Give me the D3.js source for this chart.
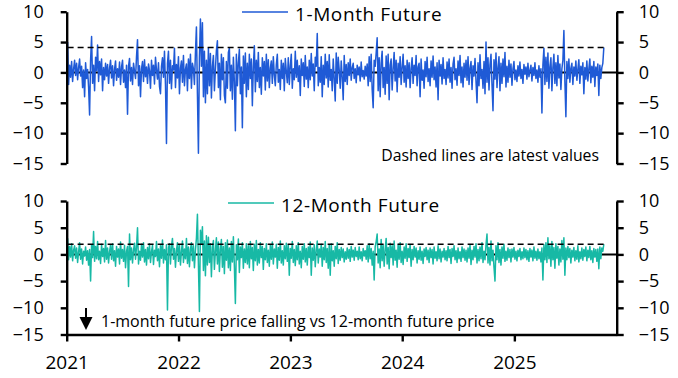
<!DOCTYPE html>
<html><head><meta charset="utf-8">
<script src="https://cdn.jsdelivr.net/npm/d3@7"></script>
<style>
html,body{margin:0;padding:0;background:#fff;}
svg{display:block;font-family:"Open Sans",sans-serif;}
</style></head>
<body><svg id="c" width="678" height="378"></svg>
<script>
// ---- data ----
const seriesNames = ["1-Month Future", "12-Month Future"];
const seriesColors = ["#1f5ad6", "#17b9a5"];
const firstDate = "2021-01-04";
const lastDate = "2025-10-20";
const yTicks = [-15, -10, -5, 0, 5, 10];
const xTickYears = [2021, 2022, 2023, 2024, 2025];
const noteTop = "Dashed lines are latest values";
const noteBottom = "1-month future price falling vs 12-month future price";

const oneMonth = [
5.0,-2.0,1.2,-0.8,1.8,-1.5,0.6,2.0,-0.5,1.5,-1.2,0.8,2.2,-0.6,1.0,-2.5,0.4,-4.0,1.6,-1.0,
0.5,-2.4,-7.0,2.0,5.9,-1.8,1.2,-3.0,2.5,0.3,4.5,-1.5,1.8,-0.4,2.2,-3.0,0.8,-1.2,1.5,-0.6,
1.3,-1.8,0.7,2.0,-0.9,1.1,-2.2,0.5,1.9,-1.3,0.6,-0.8,1.7,-2.0,0.9,2.0,-1.6,0.4,-2.5,1.2,
-6.9,1.0,2.3,-1.4,0.8,-2.0,1.5,0.2,-1.0,2.6,5.4,-2.2,1.1,-4.0,0.6,1.8,-1.5,2.1,-0.7,0.9,
-1.8,1.4,0.3,-2.6,2.0,-0.5,1.2,-1.9,2.5,0.4,-1.1,1.6,-2.3,-3.5,1.0,2.4,-0.8,3.5,-2.0,-11.7,
1.5,3.5,-1.8,2.0,-2.7,1.1,0.4,4.0,-2.5,1.3,-0.9,2.6,-3.5,0.7,1.9,-1.6,2.8,-2.2,0.5,1.4,
-3.0,2.2,-1.0,3.0,-2.6,1.5,0.6,-2.0,3.2,7.5,-3.5,-13.3,2.5,8.8,1.0,8.2,-4.0,3.5,-5.0,2.0,
-3.5,4.0,-2.2,3.1,-4.2,1.0,2.8,-3.0,0.5,3.6,5.2,-2.5,1.5,-4.5,3.0,-1.2,2.4,-3.8,-5.0,1.8,
-2.6,3.3,4.0,-3.0,1.2,-4.4,2.5,-1.5,-9.6,3.0,-2.2,1.6,3.8,-3.5,0.9,-9.1,2.7,-1.8,3.2,-4.0,
1.5,-2.8,3.0,-1.0,2.2,-5.5,1.0,4.4,-3.2,2.0,-1.5,3.3,-2.5,0.8,-3.6,2.4,-0.6,1.8,-2.9,3.0,
-1.4,2.1,-2.5,0.7,1.9,-1.8,2.6,-0.4,-2.2,1.3,3.0,-1.6,0.5,-2.8,2.0,-1.0,1.5,-3.0,2.3,0.2,
-1.7,2.4,-2.0,1.0,3.0,-2.6,0.6,-1.2,3.5,-0.8,2.0,-1.5,1.1,-3.8,2.2,-0.5,1.6,-2.3,2.8,-1.1,
0.9,-2.5,2.0,-1.2,3.1,-0.6,1.4,-3.0,2.5,1.0,6.4,-2.2,0.8,-1.6,2.6,-4.0,1.2,-2.0,3.0,-0.9,
1.8,-2.4,2.9,-1.3,0.5,-3.0,2.2,-1.0,-4.7,3.2,-1.8,2.5,0.4,-2.6,1.9,-0.8,-4.5,2.8,-1.5,1.3,
-2.0,1.6,-0.5,2.2,-1.3,0.8,1.5,-1.0,0.6,-1.7,1.2,-0.4,0.9,-1.4,1.7,-0.7,0.3,-1.1,1.0,-0.6,
1.4,-2.2,2.6,-1.5,3.0,-2.8,-5.8,2.0,1.0,3.2,5.7,-3.0,2.4,-4.0,1.6,3.5,-2.5,0.8,-3.6,2.7,
-1.8,3.0,-4.5,1.2,2.2,-2.9,0.6,3.3,-1.4,2.0,-3.2,1.5,-0.8,2.6,-2.0,0.9,3.0,-1.6,1.1,-2.4,
2.0,-1.0,1.6,-2.5,0.7,2.4,-1.8,1.2,-0.5,2.8,-2.2,0.9,1.5,-4.0,2.2,-1.3,0.4,-2.6,1.8,-0.7,
2.5,-1.5,0.6,-2.2,1.9,-0.8,2.7,-1.2,0.9,-2.4,1.6,-4.5,2.0,-0.6,1.3,-1.9,2.4,-1.0,0.5,-2.0,
1.7,-0.9,2.2,-1.6,0.8,-2.6,1.4,2.5,-1.2,0.6,-2.1,1.9,-0.5,2.8,-1.7,0.9,-2.4,1.5,-0.8,2.0,
-1.3,2.6,-2.0,0.7,1.8,-2.8,1.1,-0.6,2.3,-1.5,-5.0,1.6,-2.2,2.9,-1.0,0.5,-2.6,1.8,-3.5,5.0,
-1.6,2.4,-2.9,1.3,3.0,-2.0,-6.3,2.1,-1.1,3.2,-2.5,0.8,2.6,-3.0,1.5,-1.8,2.2,-0.7,3.3,-2.4,
1.0,-1.6,2.0,-0.8,1.4,-2.1,0.6,1.8,-1.2,0.4,-1.5,1.1,-0.6,1.7,-1.0,0.5,-1.8,1.3,-0.3,0.9,
-1.1,1.5,-0.7,0.3,1.2,-1.4,0.8,-0.5,1.6,-1.0,0.4,-1.6,1.1,-0.8,0.6,-6.7,1.3,4.0,-2.0,2.5,
-1.5,3.2,-2.6,1.0,2.4,-3.0,0.8,3.0,-1.8,1.6,-2.2,2.8,-0.9,1.4,-2.8,0.6,2.0,6.9,-1.5,-7.3,
1.8,-1.0,2.2,-1.6,0.7,1.5,-2.0,0.9,-0.6,1.9,-1.3,0.5,2.1,-1.8,1.0,-0.4,1.6,-3.5,0.8,-1.1,
1.9,-1.4,0.6,2.2,-1.7,1.0,-0.8,1.8,-2.3,0.9,-0.5,1.4,-3.8,1.2,-1.0,0.8,1.5,4.1
];

const twelveMonth = [
3.0,-1.0,1.5,-0.5,2.0,-1.2,0.8,1.6,-0.7,1.2,-1.5,0.5,2.2,-0.9,1.0,-1.8,0.6,-0.3,1.4,-1.1,
0.7,-2.0,0.9,-5.0,1.8,-0.6,4.3,-1.3,1.5,-0.8,2.4,-1.0,0.6,-1.7,1.9,-0.4,1.1,-1.4,2.6,-0.9,
1.2,-1.6,0.5,1.8,-0.9,2.0,-1.2,0.7,-2.2,1.5,-0.5,1.0,-1.8,2.3,-0.7,0.9,-1.3,1.7,-2.5,0.6,
1.5,-6.0,3.8,-1.0,1.2,-1.6,0.8,2.1,-0.9,1.4,5.0,-1.8,0.6,-1.1,1.9,-0.5,2.2,-1.4,0.9,-2.0,
1.3,-0.8,2.0,-1.5,0.5,1.7,-1.9,0.8,-0.4,2.4,-1.2,1.0,-2.3,1.6,-0.7,2.7,-1.6,0.9,-1.0,1.8,
-10.4,1.2,2.0,-1.8,1.5,3.0,-0.9,1.1,-2.4,0.7,2.2,-1.3,1.8,-2.0,0.6,2.5,-1.5,1.0,-0.8,3.0,
-1.7,1.4,-2.3,0.9,2.2,-1.2,1.6,-2.5,0.8,3.0,7.5,-2.0,-10.7,4.5,2.0,5.2,-3.0,2.5,-4.0,3.5,
-2.0,3.2,-1.5,2.0,-4.2,1.3,2.6,-2.8,0.7,3.1,-1.8,2.3,-3.2,1.0,2.8,-2.4,1.5,-3.6,2.2,-1.1,
2.7,-2.5,1.2,-3.0,2.4,-1.4,3.3,-2.2,-9.2,1.8,-1.0,2.9,-3.4,1.4,-0.6,2.2,-2.6,1.0,-1.5,2.0,
-1.8,1.6,-2.5,2.4,-0.8,1.3,-3.0,1.9,-1.2,2.6,-2.0,0.9,-1.6,2.2,-0.6,1.5,-2.8,1.1,-1.0,2.0,
-1.5,0.8,-2.2,1.7,-0.9,2.3,-1.8,1.0,-0.5,1.9,-2.6,1.3,-1.1,2.5,-1.6,0.7,-2.0,1.6,-0.8,2.1,
-1.3,1.8,-3.9,1.1,-0.7,2.4,-1.5,0.9,-2.1,1.6,-1.0,2.2,-1.8,0.6,-2.5,1.5,-0.9,2.0,-1.4,1.1,
-2.0,1.4,-0.6,2.3,-3.9,1.2,-1.1,1.8,-2.3,0.8,2.5,-1.6,1.0,-0.5,1.9,-2.2,1.3,-1.0,2.4,-1.5,
1.1,-2.6,1.8,-3.9,2.0,-1.2,0.7,-2.2,1.5,-0.8,2.2,-1.7,0.9,-1.1,1.3,-0.6,1.0,-1.4,0.5,-0.9,
1.2,-0.7,0.9,-1.3,1.5,-0.5,0.8,-1.1,1.3,-0.4,0.6,-1.0,1.4,-0.8,0.5,-1.2,1.1,-0.3,0.7,-0.9,
1.6,-1.4,2.0,-0.8,1.1,-2.0,0.6,-4.8,1.4,2.4,3.8,-1.6,1.0,-2.5,2.8,-1.2,1.7,-2.2,0.9,3.0,
-1.8,1.3,-2.7,2.1,-0.6,1.6,-2.0,2.5,-1.1,0.8,-2.4,1.9,-0.9,2.2,-1.5,0.6,-1.9,1.4,-0.7,2.0,
-1.3,1.1,-0.6,1.8,-2.2,0.9,-1.0,1.5,-0.5,1.2,-1.6,0.7,-0.9,1.4,-1.1,0.6,-1.7,1.0,-0.4,1.3,
-1.0,0.8,-1.5,1.2,-0.6,0.9,-1.8,1.4,-0.7,0.5,-1.2,1.6,-0.8,1.0,-1.4,0.6,-0.5,1.1,-1.0,0.7,
-1.2,1.5,-0.6,0.9,-1.7,1.1,-0.4,1.6,-1.0,0.7,-1.5,1.2,-0.8,0.5,-1.3,1.4,-0.6,1.0,-1.1,0.8,
-1.4,1.2,-0.7,1.7,-1.9,0.8,-1.0,1.5,-0.5,2.0,-1.6,0.9,-1.2,1.4,-0.8,2.2,-1.5,0.6,-1.0,1.8,
3.8,-1.6,1.3,-2.0,2.5,-1.2,0.8,-2.4,-5.0,1.6,-1.0,2.2,-1.5,0.9,-2.0,1.4,-0.7,1.9,-1.3,0.6,
-1.1,1.2,-0.6,0.9,-1.4,1.0,-0.5,1.3,-0.9,0.6,-1.2,0.8,-0.4,1.1,-1.0,0.5,-0.8,1.2,-0.6,0.9,
-1.0,0.7,-1.3,1.1,-0.5,0.8,-1.2,1.4,-0.7,0.6,-1.1,1.0,-0.8,0.5,-1.4,1.2,-4.8,1.8,-1.0,2.2,
-1.5,3.1,-0.8,1.6,-2.2,2.4,-1.0,1.3,-2.6,2.0,-0.7,1.5,-2.0,1.0,-1.4,2.6,-0.9,3.1,-3.9,1.2,
-1.0,1.5,-0.6,1.1,-1.6,0.8,-0.5,1.3,-1.2,0.7,-0.9,1.6,-1.4,0.5,-0.8,1.2,-1.1,0.9,-0.4,1.4,
-1.2,0.8,-0.6,1.5,-1.0,0.7,-1.5,1.1,-0.5,0.9,-1.3,1.0,-2.7,1.4,-0.8,1.2,0.6,1.9
];

// ---- drawing ----
const svg = d3.select("#c");
const xLeft = 66.7, xRight = 616.7;
const x = d3.scaleTime()
  .domain([new Date(2021,0,1), new Date(2025,11,1)])
  .range([xLeft, xRight]);

const t0 = new Date(firstDate + "T00:00:00"), t1 = new Date(lastDate + "T00:00:00");
function datesFor(n){
  const sc = d3.scaleLinear().domain([0, n-1]).range([+t0, +t1]);
  return d3.range(n).map(i => new Date(sc(i)));
}

const panels = [
  {values: oneMonth, color: seriesColors[0], name: seriesNames[0], top: 11.7, bottom: 163.5,
   legendX: 242, legendY: 12, xAxis: false},
  {values: twelveMonth, color: seriesColors[1], name: seriesNames[1], top: 201, bottom: 334.5,
   legendX: 228, legendY: 203, xAxis: true}
];

panels.forEach((p) => {
  const y = d3.scaleLinear().domain([-15, 10]).range([p.bottom, p.top]);
  const g = svg.append("g");
  const dates = datesFor(p.values.length);
  const pts = p.values.map((v, i) => ({d: dates[i], v}));

  // zero line
  g.append("line").attr("x1", xLeft).attr("x2", xRight)
    .attr("y1", y(0)).attr("y2", y(0))
    .attr("stroke", "#000").attr("stroke-width", 2);

  // series
  g.append("path").datum(pts)
    .attr("fill", "none").attr("stroke", p.color).attr("stroke-width", 1.5)
    .attr("stroke-linejoin", "round")
    .attr("d", d3.line().x(d => x(d.d)).y(d => y(d.v)));

  // dashed latest value
  const last = p.values[p.values.length - 1];
  g.append("line").attr("x1", x(t0)).attr("x2", x(t1))
    .attr("y1", y(last)).attr("y2", y(last))
    .attr("stroke", "#000").attr("stroke-width", 1.5)
    .attr("stroke-dasharray", "6,4");

  // axes
  const la = g.append("g").attr("transform", `translate(${xLeft},0)`)
    .call(d3.axisLeft(y).tickValues(yTicks).tickSize(6).tickSizeOuter(0).tickPadding(17));
  const ra = g.append("g").attr("transform", `translate(${xRight},0)`)
    .call(d3.axisRight(y).tickValues(yTicks).tickSize(7).tickSizeOuter(0).tickPadding(15));
  [la, ra].forEach(a => {
    a.selectAll("path").attr("stroke", "#000").attr("stroke-width", 2.4);
    a.selectAll("line").attr("stroke", "#000").attr("stroke-width", 2.4);
    a.selectAll("text").attr("font-size", 18).attr("fill", "#000")
      .attr("font-family", '"Open Sans",sans-serif');
  });

  if (p.xAxis) {
    const xa = g.append("g").attr("transform", `translate(0,${p.bottom})`)
      .call(d3.axisBottom(x)
        .tickValues(xTickYears.map(yr => new Date(yr, 0, 1)))
        .tickFormat(d3.timeFormat("%Y")).tickSize(7).tickSizeOuter(0).tickPadding(14));
    xa.selectAll("path").attr("stroke", "#000").attr("stroke-width", 2.4);
    xa.selectAll("line").attr("stroke", "#000").attr("stroke-width", 2.4);
    xa.selectAll("text").attr("font-size", 19).attr("fill", "#000")
      .attr("font-family", '"Open Sans",sans-serif');
  }

  // legend
  g.append("line").attr("x1", p.legendX).attr("x2", p.legendX + 46)
    .attr("y1", p.legendY).attr("y2", p.legendY)
    .attr("stroke", p.color).attr("stroke-width", 1.5);
  g.append("text").attr("x", p.legendX + 53).attr("y", p.legendY + 8.5)
    .attr("font-size", 19).attr("letter-spacing", 0.6).attr("fill", "#000").text(p.name);
});

// notes
svg.append("text").attr("x", 599).attr("y", 160.5).attr("text-anchor", "end")
  .attr("font-size", 15.8).attr("fill", "#000").text(noteTop);
svg.append("text").attr("x", 101).attr("y", 326.5)
  .attr("font-size", 16).attr("fill", "#000").text(noteBottom);
// down arrow
svg.append("line").attr("x1", 86).attr("x2", 86).attr("y1", 308).attr("y2", 318)
  .attr("stroke", "#000").attr("stroke-width", 2);
svg.append("path").attr("d", "M79.5,317 L92.5,317 L86,330 Z").attr("fill", "#000");
</script></body></html>
